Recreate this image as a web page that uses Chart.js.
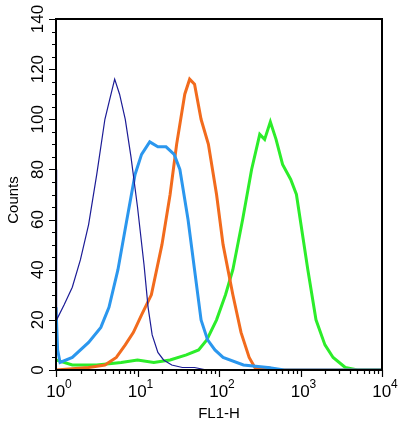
<!DOCTYPE html>
<html><head><meta charset="utf-8">
<script src="https://cdn.jsdelivr.net/npm/chart.js@4/dist/chart.umd.min.js"></script>
<style>html,body{margin:0;padding:0;background:#fff}#w{width:407px;height:427px}</style>
</head><body><div id="w"><canvas id="c"></canvas></div>
<script>
// log10 positions and counts
const navyX = [0,0.005,0.01,0.1,0.2,0.3,0.4,0.5,0.6,0.66,0.72,0.78,0.85,0.92,1.0,1.08,1.13,1.18,1.25,1.32,1.42,1.55,1.7,1.85,4];
const navyY = [80,80,20,26,33,44,58,78,100,108,116,110,100,85,65,42,25,14,7,4,2,1,1,0,0];
const lblueX = [0,0.02,0.05,0.2,0.4,0.55,0.65,0.76,0.87,0.97,1.05,1.15,1.25,1.35,1.45,1.52,1.62,1.7,1.78,1.86,1.95,2.05,2.3,2.6,2.8,4];
const lblueY = [25,8,3,5,11,17,25,40,60,78,86,91,89,89,86,80,60,40,20,12,8,5,2,1,0,0];
const orangeX = [0,0.4,0.6,0.74,0.85,0.95,1.05,1.17,1.3,1.4,1.48,1.58,1.64,1.7,1.78,1.87,1.97,2.05,2.17,2.27,2.37,2.44,2.6,2.7,4];
const orangeY = [0,1,2,5,10,15,22,30,50,70,90,110,116,114,100,90,70,50,30,15,5,1,1,0,0];
const greenX = [0,0.2,0.5,0.8,1.0,1.2,1.4,1.6,1.75,1.85,1.97,2.08,2.17,2.29,2.4,2.5,2.56,2.63,2.7,2.78,2.88,2.95,3.09,3.19,3.3,3.4,3.55,3.7,4];
const greenY = [4,2,2,3,4,3,4,6,8,12,20,30,40,60,80,94,92,99,92,82,76,70,40,20,10,5,1,0,0];
const yTicks = [0,20,40,60,80,100,120,140];
const xDecades = [0,1,2,3,4];

const pts = (xs, ys) => xs.map((v, i) => ({x: Math.pow(10, v), y: ys[i]}));
const FONT = '"Liberation Sans", Arial, sans-serif';

const frame = {
  id: 'frame',
  afterDraw(chart) {
    const {ctx, chartArea: a, scales: {x, y}} = chart;
    ctx.save();
    ctx.strokeStyle = '#000'; ctx.lineWidth = 2;
    ctx.strokeRect(a.left, a.top, a.right - a.left, a.bottom - a.top);
    ctx.lineWidth = 1.2;
    ctx.beginPath();
    for (let v = 0; v <= 140; v += 5) {
      const p = Math.round(y.getPixelForValue(v)) + 0.5;
      const len = v % 20 === 0 ? 7 : 4;
      ctx.moveTo(a.left - len, p); ctx.lineTo(a.left, p);
    }
    for (let d = 0; d < 4; d++) {
      for (let m = 1; m <= 10; m++) {
        const p = Math.round(x.getPixelForValue(m * Math.pow(10, d))) + 0.5;
        const len = (m === 1 || m === 10) ? 7 : 4;
        ctx.moveTo(p, a.bottom); ctx.lineTo(p, a.bottom + len);
      }
    }
    ctx.stroke();
    ctx.fillStyle = '#000';
    ctx.font = '17px ' + FONT;
    ctx.textAlign = 'center'; ctx.textBaseline = 'middle';
    yTicks.forEach(v => {
      const p = y.getPixelForValue(v);
      ctx.save(); ctx.translate(38, p); ctx.rotate(-Math.PI / 2);
      ctx.fillText(String(v), 0, 0); ctx.restore();
    });
    xDecades.forEach(d => {
      const p = x.getPixelForValue(Math.pow(10, d));
      ctx.font = '17px ' + FONT;
      const w1 = ctx.measureText('10').width;
      ctx.font = '12px ' + FONT;
      const w2 = ctx.measureText(String(d)).width;
      const s = p - (w1 + w2) / 2 + 3;
      ctx.textAlign = 'left'; ctx.textBaseline = 'alphabetic';
      ctx.font = '17px ' + FONT; ctx.fillText('10', s, 397);
      ctx.font = '12px ' + FONT; ctx.fillText(String(d), s + w1, 388);
    });
    ctx.font = '15px ' + FONT; ctx.textAlign = 'center';
    ctx.fillText('FL1-H', 219, 418);
    ctx.save(); ctx.translate(14, 200); ctx.rotate(-Math.PI / 2);
    ctx.textBaseline = 'middle'; ctx.fillText('Counts', 0, 0); ctx.restore();
    ctx.restore();
  }
};

new Chart(document.getElementById('c'), {
  type: 'line',
  data: {datasets: [
    {data: pts(navyX, navyY), borderColor: '#1c1c96', borderWidth: 1.2},
    {data: pts(lblueX, lblueY), borderColor: '#2b97ee', borderWidth: 3},
    {data: pts(orangeX, orangeY), borderColor: '#f26b1d', borderWidth: 3},
    {data: pts(greenX, greenY), borderColor: '#2ced2a', borderWidth: 3}
  ]},
  options: {
    responsive: true, maintainAspectRatio: false, animation: false,
    layout: {padding: {top: 19, right: 25, left: 0, bottom: 0}},
    elements: {point: {radius: 0}, line: {tension: 0}},
    plugins: {legend: {display: false}, tooltip: {enabled: false}},
    scales: {
      x: {type: 'logarithmic', min: 1, max: 10000, grid: {display: false}, border: {display: false},
          ticks: {display: false}, afterFit: s => { s.height = 57; }},
      y: {min: 0, max: 140, grid: {display: false}, border: {display: false},
          ticks: {display: false}, afterFit: s => { s.width = 56; }}
    }
  },
  plugins: [frame]
});
</script></body></html>
